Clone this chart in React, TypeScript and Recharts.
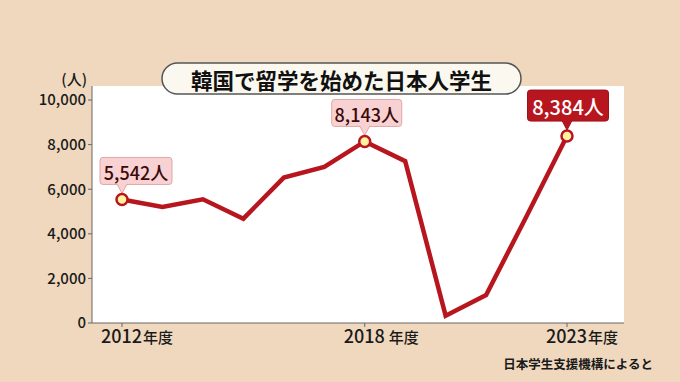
import { LineChart, Line, XAxis, YAxis, CartesianGrid } from "recharts";

// 韓国で留学を始めた日本人学生（人）
const years = ["2012", "2013", "2014", "2015", "2016", "2017", "2018", "2019", "2020", "2021", "2022", "2023"];
const students = [5542, 5200, 5550, 4680, 6520, 7000, 8143, 7260, 330, 1250, 4790, 8384];
const yTicks = [0, 2000, 4000, 6000, 8000, 10000];
const xTickYears = ["2012", "2018", "2023"];
const highlightYears = ["2012", "2018", "2023"];

const data = years.map((year, i) => ({ year, value: students[i] }));

const FONT = "'Noto Sans CJK JP', 'Noto Sans', sans-serif";
const RED = "#b8161e";
const BG = "#f0d8be";

const fmt = (v: number) => v.toLocaleString("en-US");

function XTick(props: any) {
  const { x, y, payload } = props;
  const gap = payload.value === "2018" ? 4 : 1;
  return (
    <text x={x - 21} y={y + 14} fill="#1a1a1a" fontFamily={FONT} fontWeight={500} fontSize={18}>
      {payload.value}
      <tspan dx={gap} fontSize={15}>
        年度
      </tspan>
    </text>
  );
}

function renderDot(props: any) {
  const { cx, cy, index, payload } = props;
  if (!highlightYears.includes(payload.year)) return <g key={`d${index}`} />;
  const last = index === data.length - 1;
  const w = last ? 81 : index === 0 ? 72 : 70;
  const h = last ? 31 : 27;
  const shift = index === 0 ? 14 : last ? 1 : 2;
  const bottom = cy - 15;
  const left = cx + shift - w / 2;
  const fill = last ? RED : "#f8d2d2";
  const stroke = last ? "#9e1118" : "#e3a5a5";
  return (
    <g key={`d${index}`}>
      <rect x={left} y={bottom - h} width={w} height={h} rx={3} fill={fill} stroke={stroke} strokeWidth={1} />
      <path d={`M${cx - 5},${bottom - 0.5} L${cx},${cy - 6} L${cx + 5},${bottom - 0.5}`} fill={fill} stroke={stroke} strokeWidth={1} />
      <rect x={cx - 4.5} y={bottom - 2} width={9} height={2} fill={fill} />
      <text
        x={left + w / 2}
        y={bottom - h / 2 + 1}
        textAnchor="middle"
        dominantBaseline="central"
        fontFamily={FONT}
        fontWeight={500}
        fontSize={last ? 20 : 18}
        fill={last ? "#ffffff" : "#3b0a0a"}
      >
        {fmt(payload.value)}人
      </text>
      <circle cx={cx} cy={cy} r={5.5} fill="#fff2a0" stroke={RED} strokeWidth={2.5} />
    </g>
  );
}

export default function App() {
  return (
    <div style={{ position: "absolute", left: 0, top: 0, width: 680, height: 382, background: BG }}>
      <LineChart width={680} height={382} data={data} margin={{ top: 86, right: 56, bottom: 0, left: 0 }}>
        <CartesianGrid horizontal={false} vertical={false} fill="#ffffff" stroke="none" />
        <XAxis
          dataKey="year"
          ticks={xTickYears}
          interval={0}
          height={59}
          padding={{ left: 30, right: 57 }}
          axisLine={{ stroke: "#666" }}
          tickLine={{ stroke: "#666" }}
          tickSize={4}
          tick={<XTick />}
        />
        <YAxis
          width={92}
          domain={[0, 10630]}
          ticks={yTicks}
          interval={0}
          tickFormatter={fmt}
          axisLine={{ stroke: "#666" }}
          tickLine={{ stroke: "#666" }}
          tickSize={4}
          tickMargin={2}
          tick={{ fill: "#1a1a1a", fontSize: 15, fontWeight: 500, fontFamily: FONT }}
        />
        <Line
          type="linear"
          dataKey="value"
          stroke={RED}
          strokeWidth={4.5}
          dot={renderDot}
          activeDot={false}
          isAnimationActive={false}
        />
      </LineChart>
      <svg width={680} height={382} style={{ position: "absolute", left: 0, top: 0, pointerEvents: "none" }}>
        <rect x={162} y={63} width={359} height={31} rx={15.5} fill="#fbf9ef" stroke="#555" strokeWidth={1.5} />
        <text x={341.5} y={79} textAnchor="middle" dominantBaseline="central" fontFamily={FONT} fontWeight={700} fontSize={21.5} fill="#111">
          韓国で留学を始めた日本人学生
        </text>
        <text x={87} y={78} textAnchor="end" dominantBaseline="central" fontFamily={FONT} fontWeight={500} fontSize={15} fill="#1a1a1a">
          (人)
        </text>
        <text x={653} y={363} textAnchor="end" dominantBaseline="central" fontFamily={FONT} fontWeight={700} fontSize={12.5} fill="#1a1a1a">
          日本学生支援機構によると
        </text>
      </svg>
    </div>
  );
}
